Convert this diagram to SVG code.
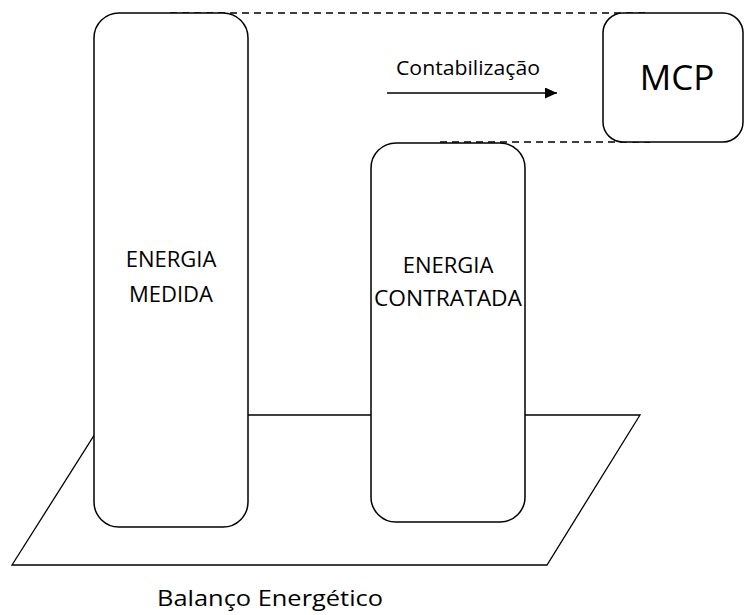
<svg xmlns="http://www.w3.org/2000/svg" width="745" height="615" viewBox="0 0 745 615">
<style>
.s{fill:none;stroke:#000;stroke-width:1.3}
.box{fill:#fff;stroke:#000;stroke-width:1.5}
.d{fill:none;stroke:#000;stroke-width:1.3;stroke-dasharray:7,5}
text{font-family:"Open Sans","Liberation Sans",sans-serif;fill:#000}
.t{font-size:22px;text-anchor:middle}
</style>
<defs>
<marker id="ah" markerWidth="12" markerHeight="11" refX="12" refY="5.5" orient="auto" markerUnits="userSpaceOnUse">
<path d="M0,0 L12,5.5 L0,11 Z" fill="#000"/>
</marker>
</defs>
<g id="balanco">
<polygon class="s" points="12,565 107,415 640,415 547,565" fill="#fff"/>
<text x="270" y="606" font-size="22" text-anchor="middle" textLength="226" lengthAdjust="spacingAndGlyphs">Balanço Energético</text>
</g>
<g id="connectors">
<line class="d" x1="170" y1="13" x2="650" y2="13"/>
<line class="d" x1="440" y1="142" x2="650" y2="142"/>
<line class="s" x1="387" y1="93" x2="557" y2="93" marker-end="url(#ah)"/>
<text x="468" y="75" font-size="20.5" text-anchor="middle" textLength="144" lengthAdjust="spacingAndGlyphs">Contabilização</text>
</g>
<g id="energia-medida">
<rect class="box" x="94" y="13" width="154" height="514" rx="25" ry="25"/>
<text class="t" x="171" y="267">ENERGIA</text>
<text class="t" x="171" y="302">MEDIDA</text>
</g>
<g id="energia-contratada">
<rect class="box" x="371" y="143" width="154" height="379" rx="25" ry="25"/>
<text class="t" x="448" y="273">ENERGIA</text>
<text class="t" x="448" y="306" textLength="148" lengthAdjust="spacingAndGlyphs">CONTRATADA</text>
</g>
<g id="mcp">
<rect class="box" x="603" y="13" width="140" height="129" rx="20" ry="20"/>
<text x="677" y="90" font-size="35" text-anchor="middle">MCP</text>
</g>
</svg>
